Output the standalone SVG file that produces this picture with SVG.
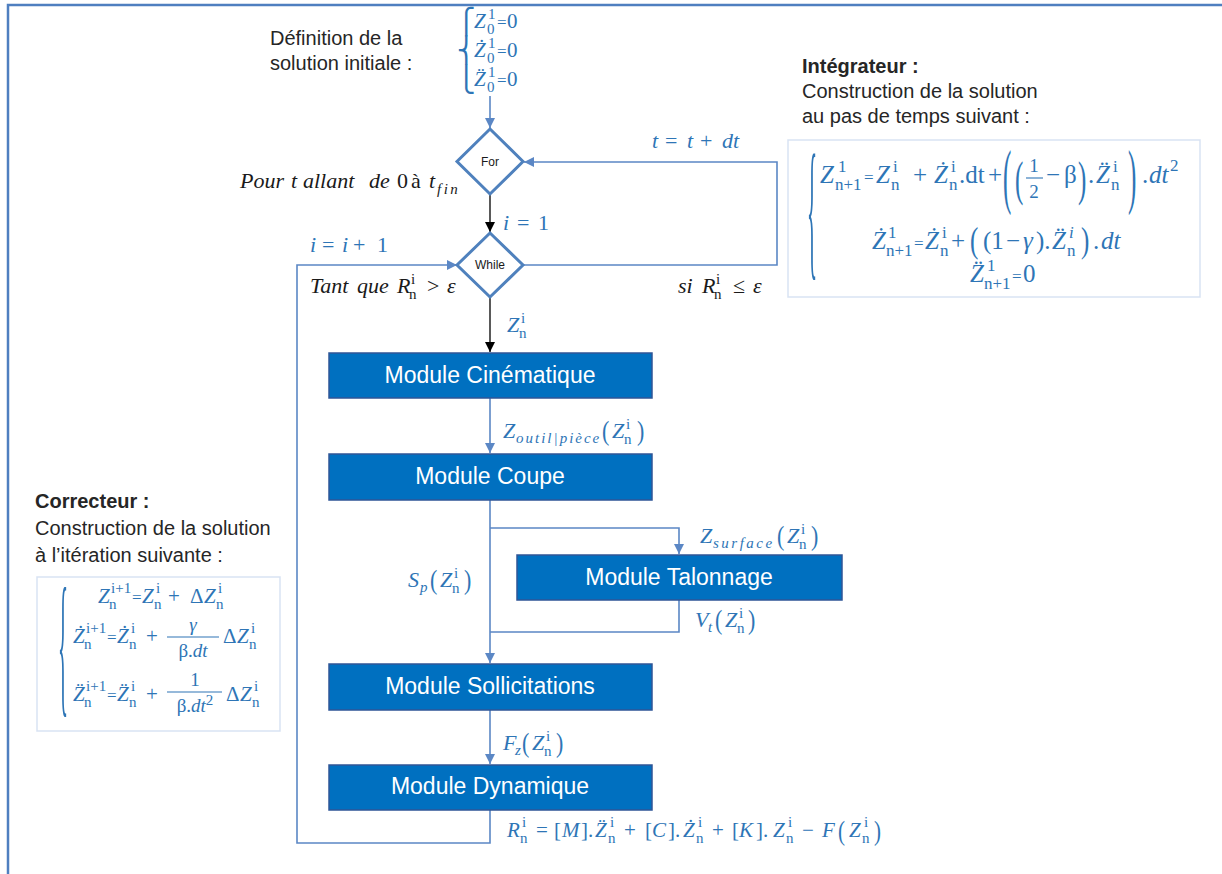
<svg xmlns="http://www.w3.org/2000/svg" width="1222" height="874" viewBox="0 0 1222 874">
<style>
.mt{font-family:"Liberation Serif","DejaVu Serif",serif;font-size:22px;fill:#2e75b6}
.m21{font-size:21px}
.m25{font-size:25px}
.k{fill:#1a1a1a}
.it{font-style:italic}
.sc{font-size:15px}
.s17{font-size:17px}
.fr{font-size:19px}
.eq{font-size:17px}
.br{font-family:"DejaVu Sans",sans-serif;font-size:25px;fill:#2e75b6}
.tx{font-family:"Liberation Sans",Arial,sans-serif;font-size:20px;fill:#262626}
.b{font-weight:bold}
.box{fill:#0070c0;stroke:#2f5597;stroke-width:1.5}
.bt{font-family:"Liberation Sans",Arial,sans-serif;font-size:23px;fill:#fff;text-anchor:middle}
.dia{fill:#fff;stroke:#4f81bd;stroke-width:3}
.dt{font-family:"Liberation Sans",Arial,sans-serif;font-size:12px;fill:#1a1a1a;text-anchor:middle}
.ln{fill:none;stroke:#5b87c5;stroke-width:1.6}
.lk{fill:none;stroke:#000;stroke-width:1.3}
.fb{fill:#fff;stroke:#d9e3f3;stroke-width:1.5}
.bar{stroke:#2e75b6;stroke-width:1.1}
.frame{fill:none;stroke:#4f7fc0;stroke-width:2.5}
</style>
<defs>
<marker id="ab" viewBox="0 0 10 10" refX="10" refY="5" markerWidth="10" markerHeight="10" markerUnits="userSpaceOnUse" orient="auto"><path d="M0,0 L10,5 L0,10 z" fill="#5b87c5"/></marker>
<marker id="ak" viewBox="0 0 10 10" refX="10" refY="5" markerWidth="10" markerHeight="10" markerUnits="userSpaceOnUse" orient="auto"><path d="M0,0 L10,5 L0,10 z" fill="#000"/></marker>
</defs>
<rect width="1222" height="874" fill="#fff"/>
<path class="frame" d="M8,874 V5 H1222"/>

<g id="connectors">
<path class="ln" d="M490,96 V128" marker-end="url(#ab)"/>
<path class="lk" d="M490,194 V232" marker-end="url(#ak)"/>
<path class="lk" d="M490,297 V352" marker-end="url(#ak)"/>
<path class="ln" d="M490,398 V453" marker-end="url(#ab)"/>
<path class="ln" d="M490,500 V663" marker-end="url(#ab)"/>
<path class="ln" d="M490,528 H679 V554" marker-end="url(#ab)"/>
<path class="ln" d="M679,600 V632 H490"/>
<path class="ln" d="M490,710 V764" marker-end="url(#ab)"/>
<path class="ln" d="M490,810 V843 H297 V265 H457" marker-end="url(#ab)"/>
<path class="ln" d="M523,265 H777 V162 H524" marker-end="url(#ab)"/>
</g>

<g id="init-solution">
<text class="tx" x="270" y="45">Définition de la</text>
<text class="tx" x="270" y="70">solution initiale :</text>
<text class="br"><tspan x="457" y="30">⎧</tspan><tspan x="457" y="59">⎨</tspan><tspan x="457" y="88">⎩</tspan></text>
<text class="mt m21">
<tspan class="it" x="474" y="28">Z</tspan><tspan class="sc" x="488" y="19">1</tspan><tspan class="sc" x="487" y="34">0</tspan><tspan class="eq" x="497" y="28">=</tspan><tspan x="507" y="28">0</tspan>
<tspan class="it" x="474" y="57">Ż</tspan><tspan class="sc" x="488" y="48">1</tspan><tspan class="sc" x="487" y="63">0</tspan><tspan class="eq" x="497" y="57">=</tspan><tspan x="507" y="57">0</tspan>
<tspan class="it" x="474" y="86">Z&#x308;</tspan><tspan class="sc" x="488" y="77">1</tspan><tspan class="sc" x="487" y="92">0</tspan><tspan class="eq" x="497" y="86">=</tspan><tspan x="507" y="86">0</tspan>
</text>
</g>

<g id="for">
<polygon class="dia" points="490,129 523,161.5 490,194 457,161.5"/>
<text class="dt" x="490" y="166">For</text>
</g>
<text class="mt k"><tspan class="it" x="240" y="188">Pour</tspan><tspan class="it" x="291">t</tspan><tspan class="it" x="303">allant</tspan><tspan class="it" x="369">de</tspan><tspan x="397">0</tspan><tspan x="411">à</tspan><tspan class="it" x="429">t</tspan><tspan class="it sc" x="437" y="194" letter-spacing="2.5">fin</tspan></text>
<text class="mt"><tspan class="it" x="652" y="148">t</tspan><tspan x="665">=</tspan><tspan class="it" x="687">t</tspan><tspan x="700">+</tspan><tspan class="it" x="722">dt</tspan></text>
<text class="mt"><tspan class="it" x="503" y="230">i</tspan><tspan x="517">=</tspan><tspan x="538">1</tspan></text>

<g id="while">
<polygon class="dia" points="490,233 523,265 490,297 457,265"/>
<text class="dt" x="490" y="269">While</text>
</g>
<text class="mt"><tspan class="it" x="310" y="252">i</tspan><tspan x="322">=</tspan><tspan class="it" x="342">i</tspan><tspan x="353">+</tspan><tspan x="377">1</tspan></text>
<text class="mt k"><tspan class="it" x="310" y="293">Tant</tspan><tspan class="it" x="357">que</tspan><tspan class="it" x="397">R</tspan><tspan class="sc" x="411" y="284">i</tspan><tspan class="sc" x="409" y="299">n</tspan><tspan x="427" y="293">&gt;</tspan><tspan class="it" x="447">ε</tspan></text>
<text class="mt k"><tspan class="it" x="678" y="293">si</tspan><tspan class="it" x="702">R</tspan><tspan class="sc" x="716" y="284">i</tspan><tspan class="sc" x="714" y="299">n</tspan><tspan x="733" y="293">≤</tspan><tspan class="it" x="753">ε</tspan></text>
<text class="mt"><tspan class="it" x="507" y="332">Z</tspan><tspan class="sc" x="521" y="323">i</tspan><tspan class="sc" x="519" y="338">n</tspan></text>

<g id="integrateur">
<text class="tx b" x="802" y="73">Intégrateur :</text>
<text class="tx" x="802" y="98">Construction de la solution</text>
<text class="tx" x="802" y="123">au pas de temps suivant :</text>
<rect class="fb" x="788" y="140" width="412" height="157"/>
<text class="mt m21" transform="translate(807,260) scale(1,7.3)">{</text>
<text class="mt m25">
<tspan class="it" x="820" y="183">Z</tspan><tspan class="s17" x="838" y="172">1</tspan><tspan class="s17" x="835" y="190">n+1</tspan><tspan class="eq" x="864" y="183">=</tspan>
<tspan class="it" x="876" y="183">Z</tspan><tspan class="s17" x="893" y="172">i</tspan><tspan class="s17" x="891" y="190">n</tspan><tspan x="913" y="183">+</tspan>
<tspan class="it" x="934" y="183">Ż</tspan><tspan class="s17" x="951" y="172">i</tspan><tspan class="s17" x="949" y="190">n</tspan><tspan x="959" y="183">.dt</tspan><tspan x="988" y="183">+</tspan>
<tspan x="1046" y="183">−</tspan><tspan x="1064" y="183">β</tspan><tspan x="1088" y="183">.</tspan>
<tspan class="it" x="1096" y="183">Z&#x308;</tspan><tspan class="s17" x="1113" y="172">i</tspan><tspan class="s17" x="1111" y="190">n</tspan>
<tspan x="1142" y="183">.</tspan><tspan class="it" x="1149" y="183">dt</tspan><tspan class="s17" x="1170" y="171">2</tspan>
</text>
<text class="mt m25" transform="translate(1003,200.3) scale(1,2.86)">(</text>
<text class="mt m25" transform="translate(1015,194.5) scale(1,1.92)">(</text>
<text class="mt m25" transform="translate(1078,194.5) scale(1,1.92)">)</text>
<text class="mt m25" transform="translate(1128,200.3) scale(1,2.86)">)</text>
<text class="mt fr" x="1034" y="172" text-anchor="middle">1</text>
<line class="bar" x1="1026" y1="178" x2="1043" y2="178"/>
<text class="mt fr" x="1034" y="198" text-anchor="middle">2</text>
<text class="mt m25">
<tspan class="it" x="872" y="249">Ż</tspan><tspan class="s17" x="888" y="238">1</tspan><tspan class="s17" x="886" y="256">n+1</tspan><tspan class="eq" x="914" y="249">=</tspan>
<tspan class="it" x="925" y="249">Ż</tspan><tspan class="s17" x="942" y="238">i</tspan><tspan class="s17" x="940" y="256">n</tspan><tspan x="951" y="249">+</tspan>
<tspan x="983" y="249">(1</tspan><tspan x="1006" y="249">−</tspan><tspan class="it" x="1023" y="249">γ</tspan><tspan x="1036" y="249">).</tspan>
<tspan class="it" x="1052" y="249">Z&#x308;</tspan><tspan class="s17 it" x="1069" y="238">i</tspan><tspan class="s17" x="1067" y="256">n</tspan>
<tspan x="1093" y="249">.</tspan><tspan class="it" x="1101" y="249">dt</tspan>
</text>
<text class="mt m25" transform="translate(970,251.6) scale(1,1.45)">(</text>
<text class="mt m25" transform="translate(1081,251.6) scale(1,1.45)">)</text>
<text class="mt m25">
<tspan class="it" x="970" y="282">Z&#x308;</tspan><tspan class="s17" x="987" y="271">1</tspan><tspan class="s17" x="984" y="289">n+1</tspan><tspan class="eq" x="1012" y="282">=</tspan><tspan x="1023" y="282">0</tspan>
</text>
</g>

<g id="correcteur">
<text class="tx b" x="35" y="508">Correcteur :</text>
<text class="tx" x="35" y="535">Construction de la solution</text>
<text class="tx" x="35" y="562">à l’itération suivante :</text>
<rect class="fb" x="37" y="577" width="243" height="154"/>
<text class="mt m21" transform="translate(58,696) scale(1,7.5)">{</text>
<text class="mt m21">
<tspan class="it" x="98" y="603">Z</tspan><tspan class="sc" x="111" y="593">i+1</tspan><tspan class="sc" x="109" y="609">n</tspan><tspan class="eq" x="132" y="603">=</tspan>
<tspan class="it" x="142" y="603">Z</tspan><tspan class="sc" x="156" y="593">i</tspan><tspan class="sc" x="154" y="609">n</tspan><tspan x="168" y="603">+</tspan>
<tspan x="190" y="603">Δ</tspan><tspan class="it" x="204" y="603">Z</tspan><tspan class="sc" x="218" y="593">i</tspan><tspan class="sc" x="216" y="609">n</tspan>
<tspan class="it" x="73" y="643">Ż</tspan><tspan class="sc" x="86" y="633">i+1</tspan><tspan class="sc" x="84" y="649">n</tspan><tspan class="eq" x="107" y="643">=</tspan>
<tspan class="it" x="117" y="643">Ż</tspan><tspan class="sc" x="131" y="633">i</tspan><tspan class="sc" x="129" y="649">n</tspan><tspan x="146" y="643">+</tspan>
<tspan x="223" y="643">Δ</tspan><tspan class="it" x="237" y="643">Z</tspan><tspan class="sc" x="251" y="633">i</tspan><tspan class="sc" x="249" y="649">n</tspan>
<tspan class="it" x="73" y="701">Z&#x308;</tspan><tspan class="sc" x="86" y="691">i+1</tspan><tspan class="sc" x="84" y="707">n</tspan><tspan class="eq" x="107" y="701">=</tspan>
<tspan class="it" x="117" y="701">Z&#x308;</tspan><tspan class="sc" x="131" y="691">i</tspan><tspan class="sc" x="129" y="707">n</tspan><tspan x="146" y="701">+</tspan>
<tspan x="226" y="701">Δ</tspan><tspan class="it" x="240" y="701">Z</tspan><tspan class="sc" x="254" y="691">i</tspan><tspan class="sc" x="252" y="707">n</tspan>
</text>
<text class="mt fr it" x="193" y="631" text-anchor="middle">γ</text>
<line class="bar" x1="167" y1="637" x2="219" y2="637"/>
<text class="mt fr" x="193" y="657" text-anchor="middle">β.<tspan class="it">dt</tspan></text>
<text class="mt fr" x="195" y="686" text-anchor="middle">1</text>
<line class="bar" x1="167" y1="692" x2="222" y2="692"/>
<text class="mt fr" x="195" y="712" text-anchor="middle">β.<tspan class="it">dt</tspan><tspan class="sc" dy="-7">2</tspan></text>
</g>

<g id="module-cinematique">
<rect class="box" x="329" y="353" width="323" height="45"/>
<text class="bt" x="490" y="383">Module Cinématique</text>
</g>
<text class="mt"><tspan class="it" x="503" y="438">Z</tspan><tspan class="it sc" x="516" y="443" letter-spacing="2">outil|pièce</tspan><tspan class="it" x="612" y="438">Z</tspan><tspan class="sc" x="626" y="429">i</tspan><tspan class="sc" x="624" y="444">n</tspan></text>
<text class="mt" transform="translate(602,440) scale(1,1.22)">(</text>
<text class="mt" transform="translate(637,440) scale(1,1.22)">)</text>

<g id="module-coupe">
<rect class="box" x="329" y="454" width="323" height="46"/>
<text class="bt" x="490" y="484">Module Coupe</text>
</g>

<text class="mt"><tspan class="it" x="700" y="543">Z</tspan><tspan class="it sc" x="713" y="548" letter-spacing="2.5">surface</tspan><tspan class="it" x="787" y="543">Z</tspan><tspan class="sc" x="801" y="534">i</tspan><tspan class="sc" x="799" y="549">n</tspan></text>
<text class="mt" transform="translate(777,545) scale(1,1.22)">(</text>
<text class="mt" transform="translate(811,545) scale(1,1.22)">)</text>

<g id="module-talonnage">
<rect class="box" x="517" y="555" width="325" height="45"/>
<text class="bt" x="679" y="585">Module Talonnage</text>
</g>

<text class="mt"><tspan class="it" x="408" y="587">S</tspan><tspan class="it sc" x="420" y="592">p</tspan><tspan class="it" x="440" y="587">Z</tspan><tspan class="sc" x="454" y="578">i</tspan><tspan class="sc" x="452" y="593">n</tspan></text>
<text class="mt" transform="translate(430,589) scale(1,1.22)">(</text>
<text class="mt" transform="translate(464,589) scale(1,1.22)">)</text>

<text class="mt"><tspan class="it" x="695" y="627">V</tspan><tspan class="it sc" x="708" y="632">t</tspan><tspan class="it" x="725" y="627">Z</tspan><tspan class="sc" x="739" y="618">i</tspan><tspan class="sc" x="737" y="633">n</tspan></text>
<text class="mt" transform="translate(715,629) scale(1,1.22)">(</text>
<text class="mt" transform="translate(748,629) scale(1,1.22)">)</text>

<g id="module-sollicitations">
<rect class="box" x="329" y="664" width="323" height="46"/>
<text class="bt" x="490" y="694">Module Sollicitations</text>
</g>

<text class="mt"><tspan class="it" x="503" y="750">F</tspan><tspan class="it sc" x="515" y="755">z</tspan><tspan class="it" x="532" y="750">Z</tspan><tspan class="sc" x="546" y="741">i</tspan><tspan class="sc" x="544" y="756">n</tspan></text>
<text class="mt" transform="translate(522,752) scale(1,1.22)">(</text>
<text class="mt" transform="translate(556,752) scale(1,1.22)">)</text>

<g id="module-dynamique">
<rect class="box" x="329" y="765" width="323" height="45"/>
<text class="bt" x="490" y="794">Module Dynamique</text>
</g>

<text class="mt m21">
<tspan class="it" x="507" y="837">R</tspan><tspan class="sc" x="522" y="827">i</tspan><tspan class="sc" x="520" y="843">n</tspan>
<tspan x="536" y="837">=</tspan><tspan x="554" y="837">[</tspan><tspan class="it" x="562" y="837">M</tspan><tspan x="581" y="837">].</tspan>
<tspan class="it" x="595" y="837">Z&#x308;</tspan><tspan class="sc" x="610" y="827">i</tspan><tspan class="sc" x="608" y="843">n</tspan>
<tspan x="624" y="837">+</tspan><tspan x="645" y="837">[</tspan><tspan class="it" x="652" y="837">C</tspan><tspan x="668" y="837">].</tspan>
<tspan class="it" x="683" y="837">Ż</tspan><tspan class="sc" x="698" y="827">i</tspan><tspan class="sc" x="696" y="843">n</tspan>
<tspan x="712" y="837">+</tspan><tspan x="732" y="837">[</tspan><tspan class="it" x="739" y="837">K</tspan><tspan x="756" y="837">].</tspan>
<tspan class="it" x="773" y="837">Z</tspan><tspan class="sc" x="788" y="827">i</tspan><tspan class="sc" x="786" y="843">n</tspan>
<tspan x="802" y="837">−</tspan><tspan class="it" x="822" y="837">F</tspan>
<tspan class="it" x="849" y="837">Z</tspan><tspan class="sc" x="864" y="827">i</tspan><tspan class="sc" x="862" y="843">n</tspan>
</text>
<text class="mt m21" transform="translate(838,840) scale(1,1.25)">(</text>
<text class="mt m21" transform="translate(874,840) scale(1,1.25)">)</text>
</svg>
